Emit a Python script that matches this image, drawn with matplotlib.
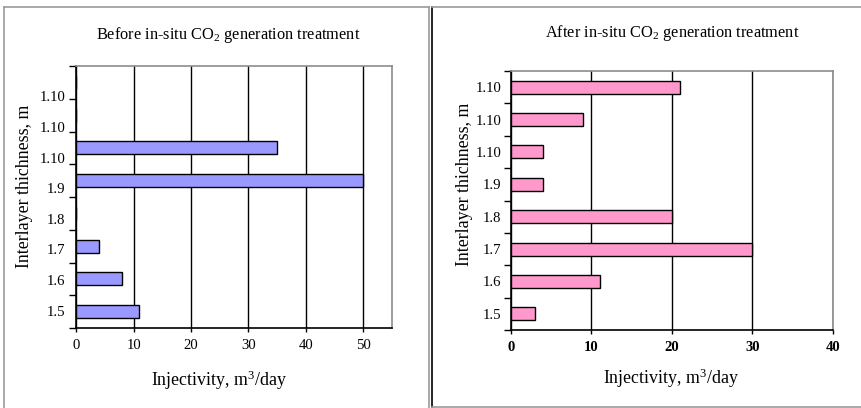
import matplotlib
matplotlib.use("Agg")
import matplotlib.pyplot as plt
import numpy as np
from matplotlib.lines import Line2D

plt.rcParams['font.family'] = ['Liberation Serif', 'DejaVu Serif']
plt.rcParams['mathtext.fontset'] = 'custom'
plt.rcParams['mathtext.rm'] = 'Liberation Serif'
plt.rcParams['mathtext.it'] = 'Liberation Serif:italic'
plt.rcParams['mathtext.bf'] = 'Liberation Serif:bold'

# Interlayer thickness categories (bottom to top) and injectivity values
categories = ["1.5", "1.6", "1.7", "1.8", "1.9", "1.10", "1.10", "1.10"]
before_values = [11, 8, 4, 0, 50, 35, 0, 0]
after_values = [3, 11, 30, 20, 4, 4, 9, 21]
before_xticks = [0, 10, 20, 30, 40, 50]
after_xticks = [0, 10, 20, 30, 40]

before_title = "Before in-situ CO$_2$ generation treatment"
after_title = "After in-situ CO$_2$ generation treatment"
x_label = "Injectivity, m$^3$/day"
y_label = "Interlayer thichness, m"

W, H = 862, 408
fig = plt.figure(figsize=(W / 100, H / 100), dpi=100)
TICK_FS = 10.6
TITLE_FS = 11.8
LABEL_FS = 12.9


def px_box(x0, y0, x1, y1):
    return [x0 / W, 1 - y1 / H, (x1 - x0) / W, (y1 - y0) / H]


def panel(ax, values, color, xmax, xticks, label_pos, bold_x, ylab_pad):
    y = np.arange(len(categories))
    ax.barh(y, values, height=0.4, color=color, edgecolor='black',
            linewidth=1.0, zorder=3)
    ax.set_ylim(-0.5, len(categories) - 0.5)
    ax.set_xlim(0, xmax)
    ax.set_yticks(label_pos)
    ax.set_yticklabels(categories, fontsize=TICK_FS)
    ax.set_yticks(np.arange(-0.5, len(categories)), minor=True)
    ax.tick_params(axis='y', which='major', length=0, pad=ylab_pad)
    ax.tick_params(axis='y', which='minor', length=5, width=1.0,
                   direction='out', color='black')
    ax.set_xticks(xticks)
    ax.set_xticklabels([str(t) for t in xticks], fontsize=TICK_FS,
                       fontweight='bold' if bold_x else 'normal')
    ax.tick_params(axis='x', length=3, width=1.0, direction='out', pad=5)
    ax.grid(axis='x', color='black', linewidth=1.0, zorder=1)
    ax.set_axisbelow(True)
    for side in ('left', 'bottom'):
        ax.spines[side].set_color('black')
        ax.spines[side].set_linewidth(1.2)
    for side in ('top', 'right'):
        ax.spines[side].set_color('#8c8c8c')
        ax.spines[side].set_linewidth(1.2)


# Left panel: before treatment
ax1 = fig.add_axes(px_box(76.3, 66, 392, 328))
left_label_pos = np.arange(len(categories)) * 0.935 + 0.03
panel(ax1, before_values, '#9999ff', 55, before_xticks, left_label_pos,
      False, 8)
ax1.set_xlabel(x_label, fontsize=LABEL_FS)
ax1.xaxis.set_label_coords((218.5 - 76.3) / (392 - 76.3), -(380 - 328) / 262)
ax1.xaxis.label.set_va('center')
ax1.set_ylabel(y_label, fontsize=LABEL_FS)
ax1.yaxis.set_label_coords((25 - 76.3) / (392 - 76.3), (328 - 186.5) / 262)
ax1.yaxis.label.set_va('center')
fig.text(228 / W, 1 - 35 / H, before_title, ha='center', va='center',
         fontsize=TITLE_FS)

# Right panel: after treatment
ax2 = fig.add_axes(px_box(511, 71, 833, 330))
panel(ax2, after_values, '#ff99cc', 40, after_xticks,
      np.arange(len(categories)), True, 7)
ax2.set_xlabel(x_label, fontsize=LABEL_FS)
ax2.xaxis.set_label_coords((671 - 511) / (833 - 511), -(378 - 330) / 259)
ax2.xaxis.label.set_va('center')
ax2.set_ylabel(y_label, fontsize=LABEL_FS)
ax2.yaxis.set_label_coords((465 - 511) / (833 - 511), (330 - 184.5) / 259)
ax2.yaxis.label.set_va('center')
fig.text(672 / W, 1 - 33 / H, after_title, ha='center', va='center',
         fontsize=TITLE_FS)

# Chart frames
grey = '#9a9a9a'
frames = [
    ((4, 4), (7, 410), grey),
    ((4, 429), (7, 7), grey),
    ((429, 429), (7, 410), grey),
    ((432.5, 432.5), (7, 407), 'black'),
    ((432.5, 870), (7, 7), grey),
    ((432.5, 870), (407, 407), grey),
]
for xs, ys, c in frames:
    fig.add_artist(Line2D([x / W for x in xs], [1 - v / H for v in ys],
                          transform=fig.transFigure, color=c, linewidth=1.2))

fig.savefig("out.png", dpi=100)
